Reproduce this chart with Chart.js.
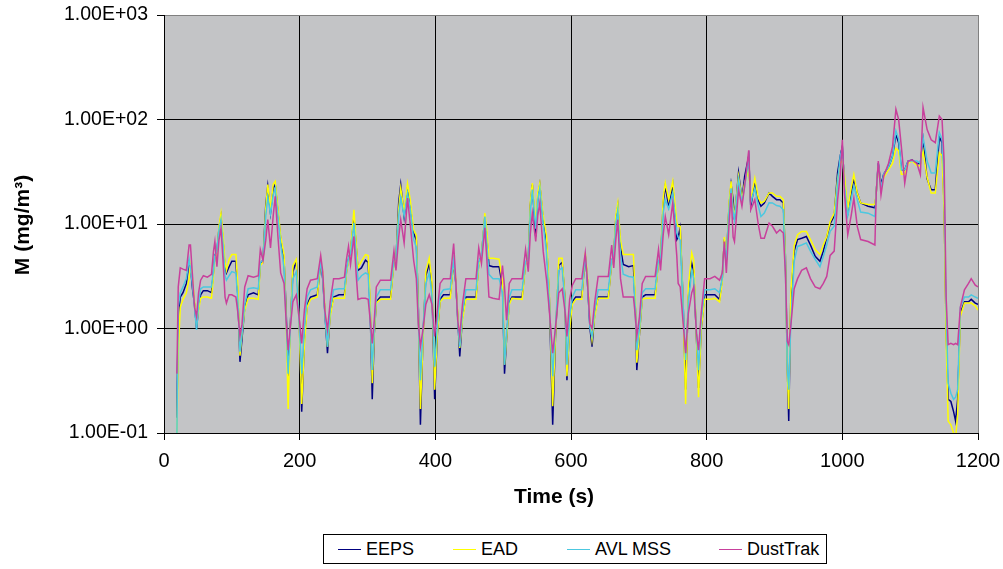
<!DOCTYPE html>
<html>
<head>
<meta charset="utf-8">
<script src="https://cdn.jsdelivr.net/npm/chart.js@4.4.1/dist/chart.umd.min.js"></script>
<style>
  html, body { margin: 0; padding: 0; background: #fff; }
  #wrap { position: relative; width: 1003px; height: 569px; }
  #legend { position: absolute; left: 323px; top: 534px; width: 502px; height: 28px; border: 1px solid #000; background: #fff; font-family: "Liberation Sans", Arial, sans-serif; font-size: 18px; color: #000; }
  #legend .item { position: absolute; top: 0; height: 28px; line-height: 28px; white-space: nowrap; }
  #legend .swatch { position: absolute; top: 14px; width: 23px; height: 0; border-top: 1.5px solid; }
</style>
</head>
<body>
<div id="wrap">
  <canvas id="c" width="1003" height="569"></canvas>
  <div id="legend"></div>
</div>
<script>
// ---- Data ----
const seriesNames = ["EEPS", "EAD", "AVL MSS", "DustTrak"];
const xTickLabels = ["0", "200", "400", "600", "800", "1000", "1200"];
const yTickLabels = ["1.00E-01", "1.00E+00", "1.00E+01", "1.00E+02", "1.00E+03"];

const timeS = [
  // cycle 1
  19,21,24,28,33,37,39,42,45,48,51,54,58,64,70,73,75,78,81,84,87,90,92,96,100,106,109,112,115,119,124,132,139,142,146,150,153,157,161,164,168,172,177,180,183,186,190,195,199,
  // cycle 2
  203,207,211,216,226,231,234,237,241,245,250,258,266,269,272,275,280,283,286,291,297,301,304,307,310,313,319,334,339,342,346,349,354,359,363,368,372,375,378,382,386,391,395,
  // cycle 3
  399,403,407,412,422,427,430,433,436,440,445,460,464,468,473,476,479,485,494,499,502,505,509,513,528,533,537,540,543,548,551,554,559,564,568,573,577,582,587,591,594,
  // cycle 4
  598,602,607,616,621,624,628,631,635,640,655,660,663,666,669,673,677,685,692,695,697,701,705,710,724,729,732,736,739,744,750,756,758,761,765,769,773,778,781,785,788,792,797,
  // extra-urban part
  805,812,819,823,826,829,833,836,839,841,847,852,856,862,865,871,876,880,885,892,897,903,908,913,916,919,921,924,929,934,940,947,953,960,967,972,977,982,988,993,997,1000,1003,1008,1013,1017,1022,1027,1038,1048,1050,1053,1057,1061,1068,1074,1079,1083,1087,1092,1097,1103,1110,1115,1119,1125,1131,1137,1143,1147,1150,1153,1156,1160,1164,1167,1170,1174,1180,1186,1190,1196,1200
];

const eeps = [
  0.14,1.3,2.0,2.2,2.7,4.3,4.0,2.4,1.7,1.0,1.6,2.1,2.3,2.3,2.2,3.5,5.0,5.5,9.0,11.8,7.0,3.8,3.4,3.9,4.4,4.4,2.0,0.48,0.8,1.6,2.1,2.2,2.1,4.2,4.5,15,23,12.8,22,24,13,7.2,4.5,1.5,0.35,1.0,3.5,4.4,1.5,
  0.16,0.8,1.7,2.0,2.1,4.3,3.0,1.5,0.58,1.4,2.0,2.1,2.1,3.5,4.6,5.5,11.8,6.5,3.6,3.8,4.5,4.3,1.5,0.21,0.9,1.8,2.0,2.0,4.4,4.6,16,23.8,11.8,22,15,8.2,7.0,1.5,0.12,0.9,3.2,4.2,2.5,
  0.21,0.9,1.9,2.1,2.1,4.3,2.8,1.3,0.54,1.3,2.0,2.0,4.2,5.0,11.8,7.5,4.0,3.9,3.9,2.5,0.37,0.8,1.8,2.0,2.0,4.3,4.6,15,23.8,7.6,18,23.8,11,6.5,2.0,0.12,0.8,4.0,4.3,2.0,0.32,
  1.1,1.8,2.0,2.0,5.0,3.0,1.0,0.67,1.4,2.0,2.0,4.4,5.0,11,14.8,6.0,4.1,3.9,4.0,1.5,0.40,0.9,2.0,2.1,2.1,4.4,4.6,16,23,14.8,23.8,7.1,7.5,9.2,2.0,0.26,2.0,4.2,3.5,0.8,0.27,1.0,2.1,
  2.1,2.1,1.9,3.0,7.1,4.5,15,24,17,11,30.8,17,28.6,44.5,14.8,24.7,17,14.8,15.9,19.8,18.4,17.1,17.1,15.9,5,0.4,0.13,1.9,5.5,7.1,7.3,7.6,6.3,4.9,4.4,5.5,7.5,10,12,30.8,45,55,25,12.7,20,26.6,19.8,15.9,14.8,14.3,20,38,24,30,35,44.5,72,60,33,33,40,41,38,38,64,27,21.3,21.3,68,60,14.8,1.0,0.21,0.20,0.16,0.13,0.21,1.4,1.8,1.8,1.9,1.75,1.7
];

const ead = [
  0.09,0.6,1.6,1.9,2.2,3.0,4.0,3.0,1.8,1.1,1.5,1.95,2.0,2.0,1.95,3.2,4.8,5.0,9.5,12.7,8.0,4.3,3.6,4.6,5.1,5.1,2.5,0.55,0.9,1.5,1.95,1.95,1.9,4.0,4.3,14,23.8,14,24,25.6,14,7.6,5.1,1.3,0.17,0.9,4.0,4.6,1.2,
  0.19,0.7,1.6,1.9,2.0,4.6,3.4,1.6,0.67,1.3,1.95,1.95,1.95,3.4,4.4,5.5,13.7,7.0,3.8,4.4,5.1,5.0,1.8,0.30,0.9,1.75,1.9,1.9,4.3,4.6,14,22,13,24.4,17,8.8,7.8,1.4,0.17,0.8,3.5,4.7,2.8,
  0.26,0.9,1.8,1.95,1.95,4.4,3.0,1.4,0.65,1.2,1.9,1.9,4.0,5.0,12.7,8.5,4.7,4.7,4.6,2.8,0.45,0.8,1.7,1.95,1.9,4.2,4.6,16,24.7,10,20,24.7,12,7.6,2.2,0.18,0.8,4.7,4.7,2.0,0.35,
  1.0,1.7,1.9,1.9,5.3,3.4,1.2,0.78,1.3,1.95,1.95,4.3,5.0,12,15.9,7.0,5.1,5.1,5.1,1.8,0.47,0.9,1.9,1.95,1.95,4.3,4.5,18,24.7,17,25.6,10.2,9.5,9.5,2.0,0.19,2.5,5.3,4.5,0.8,0.22,1.0,1.9,
  1.9,1.95,1.8,2.8,7.5,4.5,16,25.6,14,11.8,28.6,17,24.7,33,17,27.5,18,15.9,16.5,19.8,19.8,18.4,18.4,17.1,5,0.35,0.17,2.2,6.2,7.9,8.5,8.5,7.1,5.7,5.1,6.3,7.6,10.5,12.7,26.6,38,41,30,13.7,22,29.7,19.8,15.9,15.4,15.4,20,36,22,28,33,38,53,50,30,30,38,40,36,36,50,28,19.8,19.8,48,45,13,0.8,0.13,0.12,0.10,0.09,0.15,1.3,1.75,1.75,1.75,1.65,1.5
];

const avlMss = [
  0.09,1.6,2.2,2.5,3.0,4.6,3.8,2.6,1.6,0.97,1.7,2.4,2.5,2.5,2.5,3.6,5.0,5.5,8.8,11.0,6.5,3.2,2.9,3.2,3.5,3.4,1.8,0.6,0.9,1.7,2.4,2.45,2.4,4.3,4.5,12,18,12.5,19,22,12,6.4,3.8,1.2,0.37,0.9,3.0,3.5,1.2,
  0.37,1.0,2.0,2.35,2.5,4.4,3.0,1.4,0.67,1.5,2.35,2.4,2.4,3.6,4.7,5.2,10.2,5.5,2.9,3.2,3.4,3.3,1.3,0.40,1.0,2.0,2.35,2.35,4.5,4.6,12,17.8,12,19.8,14,7.1,6.0,1.2,0.32,1.0,2.7,3.4,2.1,
  0.43,1.1,2.1,2.35,2.4,4.5,2.8,1.2,0.67,1.4,2.35,2.35,4.3,5.0,11.8,6.5,3.3,3.0,3.0,2.2,0.45,0.9,2.0,2.35,2.35,4.4,4.5,13,21.3,9,17,22.1,10,5.3,1.8,0.35,1.0,3.6,3.8,1.8,0.45,
  1.3,2.0,2.35,2.35,5.0,3.0,1.0,0.84,1.5,2.35,2.35,4.5,5.0,10,13.7,5.0,3.3,3.15,3.1,1.5,0.62,1.0,2.2,2.4,2.4,4.5,4.5,13,17,14,19.8,8.2,7.5,7.0,1.8,0.50,1.8,3.6,3.0,0.9,0.40,1.2,2.35,
  2.35,2.4,2.2,3.0,6.5,4.5,14,22,13,11,26.6,16,23,41,16,22,15,11.8,12.7,16,15.9,15,14.8,13.7,4,0.4,0.26,1.1,4.4,6.1,6.3,6.6,5.5,4.6,3.9,4.9,6.3,8.5,9.5,25,45,53,24,12,17,23,17,13,12.7,11.8,20,38,22,30,35,44.5,78,65,33,33,40,40,40,38,68,40,30.8,30.8,75,65,25,1.5,0.30,0.24,0.21,0.22,0.26,1.6,2.0,2.0,2.1,2.0,1.95
];

const dustTrak = [
  0.37,2.5,3.8,3.7,3.6,6.3,6.3,3.2,1.6,1.3,2.2,2.9,3.2,3.1,3.3,5.5,6.8,3.9,7.0,9.1,4.5,2.0,1.75,2.1,2.1,2.0,1.4,0.84,1.1,2.5,3.2,3.1,3.2,5.7,4.5,7,11,5.9,12,18.4,7.5,3.4,2.7,1.2,0.62,1.0,1.8,2.1,1.3,
  0.72,1.5,2.4,2.9,3.0,5.0,3.5,1.5,0.97,1.8,3.0,3.0,3.1,4.6,6.1,4.1,7.6,3.5,1.9,1.95,1.95,1.9,1.2,0.72,1.2,2.5,2.9,2.9,5.5,3.6,7.5,11,6.6,17.7,10,4.5,3.0,1.1,0.67,1.0,1.7,2.1,1.7,
  0.84,1.5,2.7,3.0,3.0,6.5,3.0,1.2,0.84,1.7,3.0,3.0,5.9,4.2,9.2,4.5,2.0,1.95,1.9,4.0,2.5,1.2,2.7,3.0,3.0,5.7,3.5,8,12.7,6.8,12,15.9,5.5,2.9,1.5,0.58,1.0,2.2,2.4,1.5,0.84,
  1.9,2.6,3.0,3.0,5.3,3.0,1.1,1.0,1.8,3.15,3.15,6.3,3.8,7,11,3.0,2.0,2.0,2.0,1.3,0.84,1.3,2.7,3.15,3.15,5.7,3.6,8,11.8,7.9,15.9,4.9,2.7,2.5,1.2,0.58,1.4,2.2,2.5,0.9,0.62,1.4,3.0,
  3.0,3.15,2.9,3.4,6.8,3.4,10,19.8,7.5,6.8,21.3,14.8,23,50.8,13.7,17.1,10,7.3,7.3,10.2,9.5,8.2,8.8,8.2,3.5,0.75,0.70,1.05,2.4,3.0,3.6,3.8,3.0,2.5,2.4,2.7,3.15,5.0,5.5,17,30,64,20,7.9,12,17.7,9.5,7.1,6.8,6.3,20,40,19,28.6,38,55,125,100,55,24.6,40,41,38,29.7,130,80,64,60,108,100,41,2.0,0.70,0.72,0.70,0.72,0.70,1.6,2.35,2.7,3.0,2.6,2.5
];

// ---- Styling ----
const FONT = '"Liberation Sans", Arial, sans-serif';
const colors = ["#000080", "#FFFF00", "#4CC8E0", "#C8409C"];
const seriesValues = [eeps, ead, avlMss, dustTrak];

const plotBg = {
  id: 'plotBg',
  beforeDraw(chart) {
    const a = chart.chartArea, ctx = chart.ctx;
    ctx.save();
    ctx.fillStyle = '#C3C4C6';
    ctx.fillRect(a.left, a.top, a.right - a.left, a.bottom - a.top);
    ctx.restore();
  }
};

const axisTitles = {
  id: 'axisTitles',
  afterDraw(chart) {
    const ctx = chart.ctx;
    ctx.save();
    ctx.fillStyle = '#000';
    ctx.font = 'bold 21px ' + FONT;
    ctx.textAlign = 'center';
    ctx.textBaseline = 'middle';
    ctx.fillText('Time (s)', 554, 497);
    ctx.translate(23, 225);
    ctx.rotate(-Math.PI / 2);
    ctx.fillText('M (mg/m³)', 0, 0);
    ctx.restore();
  }
};

const datasets = seriesNames.map((name, k) => ({
  label: name,
  data: timeS.map((t, i) => ({ x: t, y: seriesValues[k][i] })),
  borderColor: colors[k],
  backgroundColor: colors[k],
  borderWidth: 1.5,
  pointRadius: 0,
  tension: 0,
  fill: false,
  order: seriesNames.length - k
}));

new Chart(document.getElementById('c'), {
  type: 'line',
  data: { datasets },
  options: {
    responsive: false,
    animation: false,
    devicePixelRatio: 1,
    layout: { padding: { left: 0, right: 25, top: 15, bottom: 0 } },
    plugins: { legend: { display: false }, tooltip: { enabled: false } },
    scales: {
      x: {
        type: 'linear',
        min: 0, max: 1200,
        afterFit(s) { s.height = 136; s.paddingLeft = 0; s.paddingRight = 0; },
        afterBuildTicks(s) { s.ticks = xTickLabels.map(v => ({ value: Number(v) })); },
        ticks: {
          color: '#000', font: { family: FONT, size: 20 }, padding: 9, maxRotation: 0,
          callback: (v) => String(v)
        },
        grid: {
          color: (c) => (c.tick && c.tick.value === 1200) ? '#808080' : '#000',
          lineWidth: 1, tickLength: 7, tickColor: '#000'
        },
        border: { display: true, color: '#000', width: 1 }
      },
      y: {
        type: 'logarithmic',
        min: 0.1, max: 1000,
        afterFit(s) { s.width = 164; s.paddingTop = 0; s.paddingBottom = 0; },
        afterBuildTicks(s) { s.ticks = yTickLabels.map(l => ({ value: Number(l) })); },
        ticks: {
          color: '#000', font: { family: FONT, size: 19.5 }, padding: 9,
          callback: (v) => yTickLabels[Math.round(Math.log10(v)) + 1]
        },
        grid: {
          color: (c) => (c.tick && c.tick.value === 1000) ? '#808080' : '#000',
          lineWidth: 1, tickLength: 7, tickColor: '#000'
        },
        border: { display: true, color: '#000', width: 1 }
      }
    }
  },
  plugins: [plotBg, axisTitles]
});

// ---- Legend (HTML, real text) ----
const legend = document.getElementById('legend');
const swatchX = [14, 129, 243, 395];
seriesNames.forEach((name, k) => {
  const sw = document.createElement('div');
  sw.className = 'swatch';
  sw.style.left = swatchX[k] + 'px';
  sw.style.borderTopColor = colors[k];
  legend.appendChild(sw);
  const lb = document.createElement('div');
  lb.className = 'item';
  lb.style.left = (swatchX[k] + 28) + 'px';
  lb.textContent = name;
  legend.appendChild(lb);
});
</script>
</body>
</html>
